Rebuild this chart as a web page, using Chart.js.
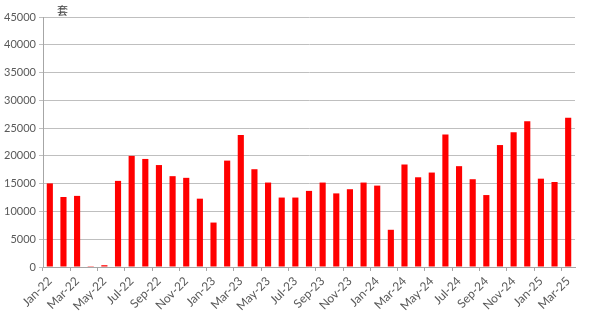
<!DOCTYPE html>
<html>
<head>
<meta charset="utf-8">
<script src="https://cdn.jsdelivr.net/npm/chart.js@4/dist/chart.umd.min.js"></script>
<style>
html,body{margin:0;padding:0;background:#fff;}
#wrap{width:594px;height:322px;position:relative;}
</style>
</head>
<body>
<div id="wrap"><canvas id="c" width="594" height="322"></canvas></div>
<script>
const categories = ["Jan-22","Feb-22","Mar-22","Apr-22","May-22","Jun-22","Jul-22","Aug-22","Sep-22","Oct-22","Nov-22","Dec-22",
"Jan-23","Feb-23","Mar-23","Apr-23","May-23","Jun-23","Jul-23","Aug-23","Sep-23","Oct-23","Nov-23","Dec-23",
"Jan-24","Feb-24","Mar-24","Apr-24","May-24","Jun-24","Jul-24","Aug-24","Sep-24","Oct-24","Nov-24","Dec-24",
"Jan-25","Feb-25","Mar-25"];
const values = [15050,12600,12800,150,320,15500,20000,19450,18350,16350,16050,12300,
8000,19150,23750,17600,15200,12500,12500,13700,15200,13250,14000,15200,
14650,6700,18450,16150,17000,23850,18150,15800,12950,21950,24250,26250,
15900,15300,26850];
const yTicks = [0,5000,10000,15000,20000,25000,30000,35000,40000,45000];
const unitLabel = "套";

const textColor = "#595959";
const fontFamily = "Lato, 'Liberation Sans', sans-serif";

const unitPlugin = {
  id: 'unit',
  afterDraw(chart) {
    const {ctx, chartArea} = chart;
    ctx.save();
    ctx.fillStyle = "#404040";
    ctx.font = "11px 'Noto Sans CJK SC'";
    ctx.textAlign = "left";
    ctx.textBaseline = "middle";
    ctx.fillText(unitLabel, chartArea.left + 14, chartArea.top - 6);
    ctx.restore();
  }
};

new Chart(document.getElementById('c'), {
  type: 'bar',
  data: {
    labels: categories,
    datasets: [{
      data: values,
      backgroundColor: "#FF0000",
      borderWidth: 0,
      barPercentage: 0.45,
      categoryPercentage: 1.0
    }]
  },
  options: {
    responsive: false,
    animation: false,
    devicePixelRatio: 1,
    layout: { padding: { top: 17, right: 19, left: 0, bottom: 0 } },
    plugins: { legend: { display: false }, tooltip: { enabled: false } },
    scales: {
      x: {
        offset: true,
        grid: {
          offset: true,
          drawOnChartArea: false,
          drawTicks: true,
          tickLength: 4,
          color: (ctx) => (ctx.index % 2 === 0 ? "#A6A6A6" : "rgba(0,0,0,0)")
        },
        border: { display: true, color: "#A6A6A6", width: 1 },
        ticks: {
          autoSkip: false,
          maxRotation: 45,
          minRotation: 45,
          color: textColor,
          font: { family: fontFamily, size: 12 },
          padding: 3,
          callback: function(v, i) { return i % 2 === 0 ? categories[i] : ''; }
        },
        afterFit(scale) { scale.height = 55; }
      },
      y: {
        min: 0,
        max: 45000,
        afterBuildTicks(scale) { scale.ticks = yTicks.map(v => ({value: v})); },
        grid: {
          color: "#BFBFBF",
          lineWidth: 1,
          tickLength: 4
        },
        border: { display: true, color: "#A6A6A6", width: 1 },
        ticks: {
          color: textColor,
          font: { family: fontFamily, size: 11 },
          padding: 3,
          callback: (v) => String(v)
        },
        afterFit(scale) { scale.width = 43; }
      }
    }
  },
  plugins: [unitPlugin]
});
</script>
</body>
</html>
